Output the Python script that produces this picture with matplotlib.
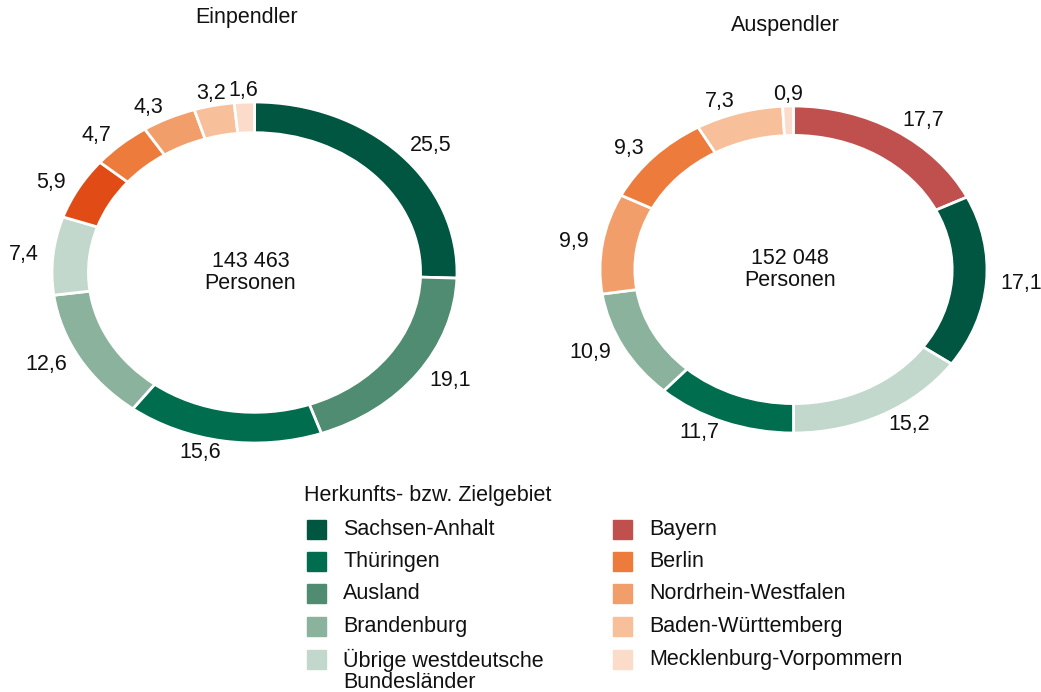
import matplotlib.pyplot as plt
from matplotlib.patches import Rectangle

plt.rcParams['font.family'] = ['Liberation Sans', 'DejaVu Sans']

# data
ein_names = ['Sachsen-Anhalt', 'Ausland', 'Thüringen', 'Brandenburg',
             'Übrige westdeutsche Bundesländer', 'Bayern', 'Berlin',
             'Nordrhein-Westfalen', 'Baden-Württemberg', 'Mecklenburg-Vorpommern']
ein_values = [25.5, 19.1, 15.6, 12.6, 7.4, 5.9, 4.7, 4.3, 3.2, 1.6]
ein_total = '143 463'

aus_names = ['Bayern', 'Sachsen-Anhalt', 'Übrige westdeutsche Bundesländer',
             'Thüringen', 'Brandenburg', 'Nordrhein-Westfalen', 'Berlin',
             'Baden-Württemberg', 'Mecklenburg-Vorpommern']
aus_values = [17.7, 17.1, 15.2, 11.7, 10.9, 9.9, 9.3, 7.3, 0.9]
aus_total = '152 048'

legend_left = ['Sachsen-Anhalt', 'Thüringen', 'Ausland', 'Brandenburg',
               'Übrige westdeutsche\nBundesländer']
legend_right = ['Bayern', 'Berlin', 'Nordrhein-Westfalen', 'Baden-Württemberg',
                'Mecklenburg-Vorpommern']

colors = {
    'Sachsen-Anhalt': '#005641',
    'Thüringen': '#006e4e',
    'Ausland': '#4f8c72',
    'Brandenburg': '#8ab29c',
    'Übrige westdeutsche Bundesländer': '#c3d8cc',
    'Bayern': '#c0504d',
    'Berlin': '#ed7b3b',
    'Nordrhein-Westfalen': '#f29e6a',
    'Baden-Württemberg': '#f8bf9b',
    'Mecklenburg-Vorpommern': '#fbdccb',
}
# Bayern is drawn in a brighter red in the Einpendler ring
ein_colors = [colors[n] for n in ein_names]
ein_colors[ein_names.index('Bayern')] = '#e04b16'
aus_colors = [colors[n] for n in aus_names]

W, H = 1041, 692
FS = 15.5
TXT = '#111111'
fig = plt.figure(figsize=(W / 100, H / 100), dpi=100)


def fmt(v):
    return f'{v:.1f}'.replace('.', ',')


def donut(box, values, cols, total, title, title_y):
    x0, y0, x1, y1 = box  # pixel bbox of the ring
    ax = fig.add_axes([x0 / W, 1 - y1 / H, (x1 - x0) / W, (y1 - y0) / H])
    wedges, texts = ax.pie(values, colors=cols, startangle=90, counterclock=False,
                           radius=1, labels=[fmt(v) for v in values],
                           labeldistance=1.07,
                           wedgeprops=dict(width=0.18, edgecolor='white', linewidth=2),
                           textprops=dict(fontsize=FS, color=TXT))
    # labels near the top are centred over their segment
    for t in texts:
        x, y = t.get_position()
        if y > 0 and abs(x) < 0.25:
            t.set_ha('center')
    ax.set_aspect('auto')
    ax.set_xlim(-1, 1)
    ax.set_ylim(-1, 1)
    ax.axis('off')
    ax.text(-0.02, 0.0, total + '\nPersonen', ha='center', va='center',
            fontsize=FS, color=TXT, linespacing=1.1)
    fig.text((x0 + x1) / 2 / W - 0.008, 1 - title_y / H, title, ha='center',
             va='center', fontsize=FS, color=TXT)


donut((52, 102, 457, 443), ein_values, ein_colors, ein_total, 'Einpendler', 18)
donut((600, 106, 987, 433), aus_values, aus_colors, aus_total, 'Auspendler', 25)

# legend drawn in pixel coordinates
lax = fig.add_axes([0, 0, 1, 1])
lax.set_xlim(0, W)
lax.set_ylim(H, 0)
lax.axis('off')
lax.text(304, 495, 'Herkunfts- bzw. Zielgebiet', ha='left', va='center',
         fontsize=FS, color=TXT)
row_y = [529, 561, 593, 626, 659]
sq = 19
for col_x, names in [(307, legend_left), (613, legend_right)]:
    for y, name in zip(row_y, names):
        key = name.replace('\n', ' ')
        lax.add_patch(Rectangle((col_x, y - sq / 2), sq, sq, color=colors[key]))
        lax.text(col_x + 36, y - 10, name, ha='left', va='top', fontsize=FS,
                 color=TXT, linespacing=1.0)

fig.savefig('out.png', dpi=100)
